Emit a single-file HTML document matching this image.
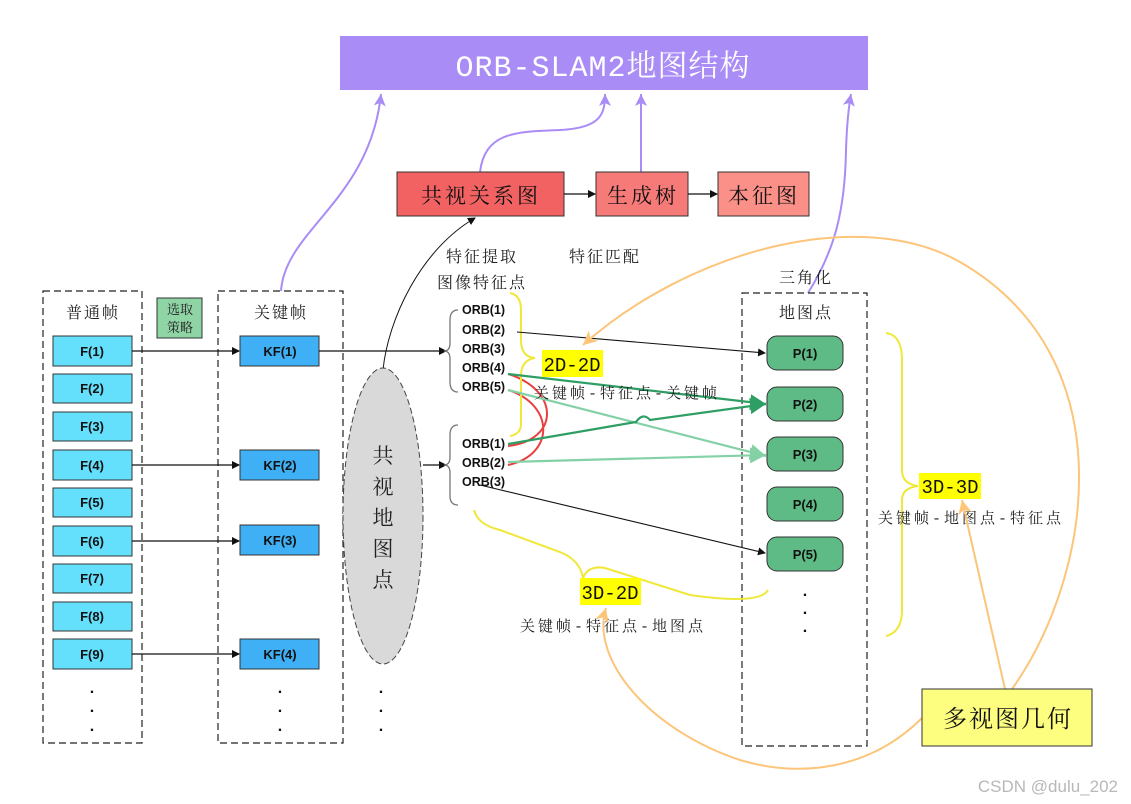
<!DOCTYPE html>
<html><head><meta charset="utf-8"><style>
html,body{margin:0;padding:0;background:#fff;}
svg{display:block;}
.s{font-family:"Liberation Mono","Noto Serif CJK SC",serif;}
.b{font-family:"Liberation Sans","Noto Sans CJK SC",sans-serif;font-weight:bold;}
</style></head><body>
<svg width="1131" height="804" viewBox="0 0 1131 804" xmlns="http://www.w3.org/2000/svg">
<defs>
<marker id="ak" markerWidth="8" markerHeight="8" refX="7" refY="4" orient="auto" markerUnits="userSpaceOnUse"><path d="M0,0 L8,4 L0,8 z" fill="#111"/></marker>
<marker id="pu" markerWidth="12" markerHeight="14" refX="12" refY="6" orient="auto" markerUnits="userSpaceOnUse"><path d="M0,0 L12,6 L0,12 L3,6 z" fill="#a98cf5"/></marker>
<marker id="or" markerWidth="14" markerHeight="14" refX="14" refY="7" orient="auto" markerUnits="userSpaceOnUse"><path d="M0,0 L14,7 L0,14 L4,7 z" fill="#fcc57a"/></marker>
<marker id="gd" markerWidth="16" markerHeight="16" refX="16" refY="8" orient="auto" markerUnits="userSpaceOnUse"><path d="M0,0 L16,8 L0,16 z" fill="#2e9e65"/></marker>
<marker id="gl" markerWidth="16" markerHeight="16" refX="16" refY="8" orient="auto" markerUnits="userSpaceOnUse"><path d="M0,0 L16,8 L0,16 z" fill="#84d1a6"/></marker>
</defs>

<rect x="340" y="36" width="528" height="54" fill="#a98cf5"/>
<text x="603" y="76" text-anchor="middle" class="s" font-size="30" fill="#fff" letter-spacing="1">ORB-SLAM2地图结构</text>

<g fill="none" stroke="#a98cf5" stroke-width="2">
<path d="M281 291 C285 230, 370 200, 381 94" marker-end="url(#pu)"/>
<path d="M480 172 C485 130, 520 132, 560 130 C600 128, 605 115, 605 94" marker-end="url(#pu)"/>
<path d="M641 172 L641 94" marker-end="url(#pu)"/>
<path d="M808 293 C835 250, 845 210, 846 150 C847 120, 849 105, 851 94" marker-end="url(#pu)"/>
</g>

<rect x="397" y="172" width="167" height="44" fill="#f26262" stroke="#333"/>
<text x="481" y="203" text-anchor="middle" class="s" font-size="21" fill="#111" letter-spacing="3">共视关系图</text>
<rect x="596" y="172" width="92" height="44" fill="#f57a78" stroke="#333"/>
<text x="643" y="203" text-anchor="middle" class="s" font-size="21" fill="#111" letter-spacing="3">生成树</text>
<rect x="718" y="172" width="91" height="44" fill="#fa9088" stroke="#333"/>
<text x="764" y="203" text-anchor="middle" class="s" font-size="21" fill="#111" letter-spacing="3">本征图</text>
<g stroke="#111" stroke-width="1.2">
<line x1="564" y1="194" x2="595" y2="194" marker-end="url(#ak)"/>
<line x1="688" y1="194" x2="717" y2="194" marker-end="url(#ak)"/>
</g>

<g class="s" font-size="16" fill="#222" letter-spacing="2">
<text x="482" y="262" text-anchor="middle">特征提取</text>
<text x="482" y="288" text-anchor="middle">图像特征点</text>
<text x="605" y="262" text-anchor="middle">特征匹配</text>
<text x="806" y="283" text-anchor="middle">三角化</text>
<text x="806" y="318" text-anchor="middle">地图点</text>
<text x="93" y="318" text-anchor="middle">普通帧</text>
<text x="281" y="318" text-anchor="middle">关键帧</text>
</g>

<g fill="none" stroke="#222" stroke-width="1.2" stroke-dasharray="7,4">
<rect x="43" y="291" width="99" height="452"/>
<rect x="218" y="291" width="125" height="452"/>
<rect x="742" y="293" width="125" height="453"/>
</g>

<rect x="157" y="298" width="45" height="40" fill="#8fd4a4" stroke="#333"/>
<text x="180" y="314" text-anchor="middle" class="s" font-size="13" fill="#222">选取</text>
<text x="180" y="332" text-anchor="middle" class="s" font-size="13" fill="#222">策略</text>

<g class="b" font-size="13" fill="#111" text-anchor="middle">
<g stroke="#333" fill="#64e0fc">
<rect x="53" y="336" width="79" height="30"/><rect x="53" y="374" width="79" height="29"/>
<rect x="53" y="412" width="79" height="29"/><rect x="53" y="450" width="79" height="30"/>
<rect x="53" y="488" width="79" height="29"/><rect x="53" y="526" width="79" height="30"/>
<rect x="53" y="564" width="79" height="29"/><rect x="53" y="602" width="79" height="29"/>
<rect x="53" y="639" width="79" height="30"/>
</g>
<text x="92" y="356">F(1)</text><text x="92" y="393">F(2)</text><text x="92" y="431">F(3)</text>
<text x="92" y="470">F(4)</text><text x="92" y="507">F(5)</text><text x="92" y="546">F(6)</text>
<text x="92" y="583">F(7)</text><text x="92" y="621">F(8)</text><text x="92" y="659">F(9)</text>
<g stroke="#333" fill="#3fb0f5">
<rect x="240" y="336" width="79" height="30"/><rect x="240" y="450" width="79" height="30"/>
<rect x="240" y="525" width="79" height="30"/><rect x="240" y="639" width="79" height="30"/>
</g>
<text x="280" y="356">KF(1)</text><text x="280" y="470">KF(2)</text>
<text x="280" y="545">KF(3)</text><text x="280" y="659">KF(4)</text>
</g>
<g stroke="#111" stroke-width="1.2">
<line x1="132" y1="351" x2="239" y2="351" marker-end="url(#ak)"/>
<line x1="132" y1="465" x2="239" y2="465" marker-end="url(#ak)"/>
<line x1="132" y1="541" x2="239" y2="541" marker-end="url(#ak)"/>
<line x1="132" y1="654" x2="239" y2="654" marker-end="url(#ak)"/>
<line x1="319" y1="351" x2="446" y2="351" marker-end="url(#ak)"/>
<line x1="423" y1="465" x2="446" y2="465" marker-end="url(#ak)"/>
</g>
<g class="b" font-size="16" fill="#111" text-anchor="middle">
<text x="92" y="693">.</text><text x="92" y="712">.</text><text x="92" y="731">.</text>
<text x="280" y="693">.</text><text x="280" y="712">.</text><text x="280" y="731">.</text>
<text x="381" y="693">.</text><text x="381" y="712">.</text><text x="381" y="731">.</text>
<text x="805" y="596">.</text><text x="805" y="614">.</text><text x="805" y="632">.</text>
</g>

<path d="M383 370 C388 320, 420 250, 475 218" fill="none" stroke="#111" stroke-width="1" marker-end="url(#ak)"/>
<ellipse cx="383" cy="516" rx="40" ry="148" fill="#d9d9d9" stroke="#444" stroke-dasharray="6,3"/>
<g class="s" font-size="21" fill="#222" text-anchor="middle">
<text x="383" y="463">共</text><text x="383" y="494">视</text><text x="383" y="525">地</text><text x="383" y="556">图</text><text x="383" y="587">点</text>
</g>

<g fill="none" stroke="#777" stroke-width="1.3">
<path d="M458 310 Q450 310 450 320 L450 343 Q450 351 444 351 Q450 351 450 359 L450 382 Q450 392 458 392"/>
<path d="M458 425 Q450 425 450 435 L450 457 Q450 465 444 465 Q450 465 450 473 L450 496 Q450 505 458 505"/>
</g>

<g class="b" font-size="12.5" fill="#111">
<text x="462" y="314">ORB(1)</text><text x="462" y="334">ORB(2)</text><text x="462" y="353">ORB(3)</text>
<text x="462" y="372">ORB(4)</text><text x="462" y="391">ORB(5)</text>
<text x="462" y="448">ORB(1)</text><text x="462" y="467">ORB(2)</text><text x="462" y="486">ORB(3)</text>
</g>

<g fill="none" stroke="#e84040" stroke-width="2">
<path d="M508 374 C560 390, 560 440, 508 446"/>
<path d="M508 390 C555 405, 555 455, 508 465"/>
</g>

<g fill="none" stroke="#f0e838" stroke-width="2">
<path d="M510 293 Q521 295 521 310 L521 340 Q521 357 535 358 Q521 360 521 376 L521 424 Q521 434 510 436"/>
<path d="M474 510 Q478 525 500 530 L560 552 Q580 560 583 578 Q588 565 605 568 L690 595 Q760 605 768 590"/>
<path d="M886 333 Q902 335 902 360 L902 470 Q902 484 918 486 Q902 488 902 500 L902 610 Q902 632 886 636"/>
</g>

<g stroke-width="2.2" fill="none">
<line x1="508" y1="390" x2="766" y2="456" stroke="#84d1a6" marker-end="url(#gl)"/>
<line x1="508" y1="462" x2="766" y2="455" stroke="#84d1a6" marker-end="url(#gl)"/>
<line x1="508" y1="374" x2="766" y2="404" stroke="#2e9e65" marker-end="url(#gd)"/>
<path d="M508 444 L636 422 Q643 412 650 420 L766 404" stroke="#2e9e65" marker-end="url(#gd)"/>
</g>
<g stroke="#111" stroke-width="1.1">
<line x1="517" y1="332" x2="765" y2="353" marker-end="url(#ak)"/>
<line x1="480" y1="485" x2="765" y2="553" marker-end="url(#ak)"/>
</g>

<g stroke="#333" fill="#5fbb86">
<rect x="767" y="336" width="76" height="34" rx="10"/><rect x="767" y="387" width="76" height="34" rx="10"/>
<rect x="767" y="437" width="76" height="34" rx="10"/><rect x="767" y="487" width="76" height="34" rx="10"/>
<rect x="767" y="537" width="76" height="34" rx="10"/>
</g>
<g class="b" font-size="13" fill="#111" text-anchor="middle">
<text x="805" y="358">P(1)</text><text x="805" y="409">P(2)</text><text x="805" y="459">P(3)</text>
<text x="805" y="509">P(4)</text><text x="805" y="559">P(5)</text>
</g>

<rect x="542" y="350" width="61" height="27" fill="#ffff00"/>
<text x="572" y="371" text-anchor="middle" class="s" font-size="19" fill="#111">2D-2D</text>
<rect x="580" y="578" width="61" height="27" fill="#ffff00"/>
<text x="610" y="599" text-anchor="middle" class="s" font-size="19" fill="#111">3D-2D</text>
<rect x="919" y="473" width="62" height="26" fill="#ffff00"/>
<text x="950" y="493" text-anchor="middle" class="s" font-size="19" fill="#111">3D-3D</text>
<g class="s" font-size="15" fill="#222" text-anchor="middle" letter-spacing="3">
<text x="627" y="398">关键帧-特征点-关键帧</text>
<text x="613" y="631">关键帧-特征点-地图点</text>
<text x="971" y="523">关键帧-地图点-特征点</text>
</g>

<g fill="none" stroke="#fcc57a" stroke-width="2">
<path d="M1012 689 C1090 580, 1130 360, 960 262 C860 205, 690 250, 583 345" marker-end="url(#or)"/>
<path d="M1005 689 L962 500" marker-end="url(#or)"/>
<path d="M922 718 C870 770, 800 778, 740 760 C650 730, 590 660, 606 608" marker-end="url(#or)"/>
</g>

<rect x="922" y="689" width="170" height="57" fill="#fdfd80" stroke="#333"/>
<text x="1008" y="727" text-anchor="middle" class="s" font-size="24" fill="#111" letter-spacing="2">多视图几何</text>

<text x="1118" y="792" text-anchor="end" font-family="Liberation Sans, sans-serif" font-size="17" fill="#b8b8b8">CSDN @dulu_202</text>
</svg>
</body></html>
